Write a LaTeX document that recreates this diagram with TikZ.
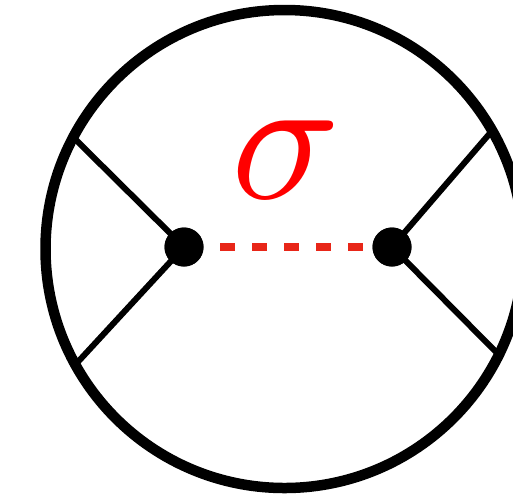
\documentclass[tikz,border=0pt]{standalone}
\usepackage{tikz}
\definecolor{dashred}{RGB}{232,38,24}
\begin{document}
\begin{tikzpicture}[x=1pt,y=-1pt,
  ring/.style={line width=10.5pt,draw=black},
  leg/.style={line width=6pt,draw=black},
  vertex/.style={circle,fill=black,inner sep=0pt,minimum size=39pt},
  prop/.style={line width=7.5pt,draw=dashred,dash pattern=on 15pt off 17pt}]
\useasboundingbox (0,0) rectangle (513,499);
\draw[ring] (284.5,249) circle[radius=239];
\coordinate (lu) at (74,138);
\coordinate (ld) at (76,364);
\coordinate (ru) at (491,132);
\coordinate (rd) at (496,352);
\node[vertex] (a) at (184,247) {};
\node[vertex] (b) at (392,247) {};
\draw[leg] (a.center) -- (lu);
\draw[leg] (a.center) -- (ld);
\draw[leg] (b.center) -- (ru);
\draw[leg] (b.center) -- (rd);
\draw[prop,dash phase=28pt] (a.center) -- (b.center);
\node[vertex] at (a) {};
\node[vertex] at (b) {};
\node[text=red,inner sep=0pt] (sig) at (286,160) {\scalebox{18}{$\sigma$}};
\end{tikzpicture}
\end{document}
